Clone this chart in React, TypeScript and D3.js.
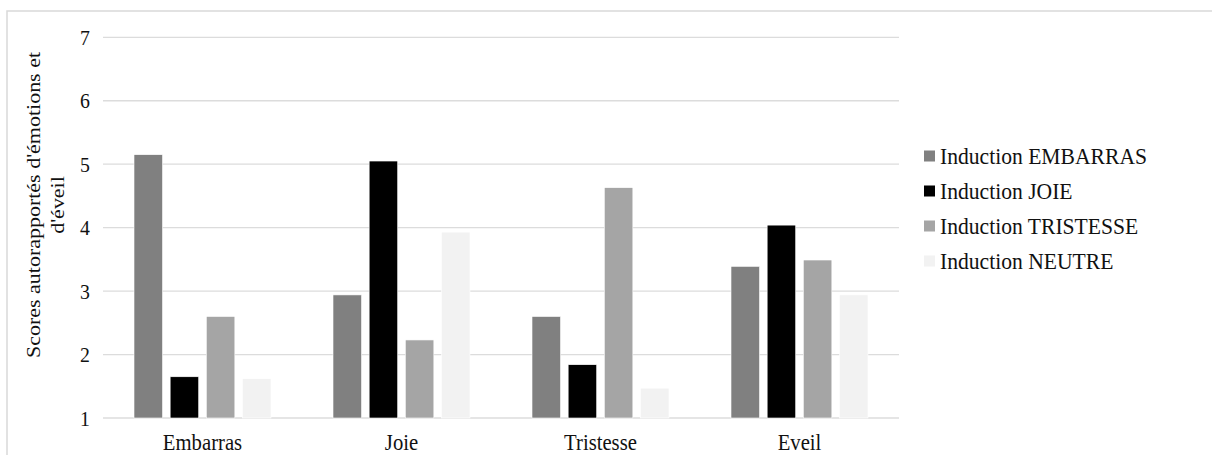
import React from "react";
import * as d3 from "d3";

const categories = ["Embarras", "Joie", "Tristesse", "Eveil"];
const seriesNames = [
  "Induction EMBARRAS",
  "Induction JOIE",
  "Induction TRISTESSE",
  "Induction NEUTRE",
];
const seriesColors = ["#808080", "#000000", "#a5a5a5", "#f2f2f2"];
const inductionEmbarras = [5.15, 2.94, 2.6, 3.39];
const inductionJoie = [1.65, 5.05, 1.84, 4.04];
const inductionTristesse = [2.6, 2.23, 4.63, 3.49];
const inductionNeutre = [1.62, 3.93, 1.47, 2.94];
const seriesValues = [inductionEmbarras, inductionJoie, inductionTristesse, inductionNeutre];
const yTicks = [1, 2, 3, 4, 5, 6, 7];
const yTitleLines = ["Scores autorapportés d'émotions et", "d'éveil"];

const W = 1212;
const H = 455;
const plot = { left: 103, right: 899, top: 37.3, bottom: 418 };
const FONT = "Liberation Serif";
const TEXT = "#111111";

function SText(props: {
  x: number;
  y: number;
  size: number;
  sx: number;
  anchor?: string;
  dy?: string;
  children: React.ReactNode;
}) {
  return (
    <text
      transform={`translate(${props.x},${props.y}) scale(${props.sx},1)`}
      dy={props.dy}
      textAnchor={props.anchor || "start"}
      fontSize={props.size}
      fill={TEXT}
      style={{ fontFamily: FONT }}
    >
      {props.children}
    </text>
  );
}

export default function App() {
  const x0 = d3.scaleBand<string>().domain(categories).range([plot.left, plot.right]).padding(0);
  const bw = x0.bandwidth();
  const x1 = d3
    .scaleBand<string>()
    .domain(seriesNames)
    .range([31, bw - 31])
    .paddingInner(0.21);
  const y = d3.scaleLinear().domain([1, 7]).range([plot.bottom, plot.top]);

  return (
    <svg
      width={W}
      height={H}
      style={{ position: "absolute", left: 0, top: 0, background: "#fff", fontFamily: FONT }}
    >
      <rect x={0} y={0} width={W} height={H} fill="#fff" />
      {/* outer chart border */}
      <rect x={7} y={11} width={W + 20} height={H + 20} fill="none" stroke="#d9d9d9" strokeWidth={1.5} />
      {/* gridlines */}
      {yTicks.map((t) => (
        <line
          key={"g" + t}
          x1={plot.left}
          x2={plot.right}
          y1={y(t)}
          y2={y(t)}
          stroke="#dcdcdc"
          strokeWidth={1.3}
        />
      ))}
      {/* y tick labels */}
      {yTicks.map((t) => (
        <SText key={"t" + t} x={90} y={y(t)} dy="0.35em" anchor="end" size={22} sx={0.9}>
          {t}
        </SText>
      ))}
      {/* bars */}
      {categories.map((c, ci) => (
        <g key={c} transform={`translate(${x0(c)},0)`}>
          {seriesNames.map((s, si) => {
            const v = seriesValues[si][ci];
            return (
              <rect
                key={s}
                x={x1(s)}
                y={y(v)}
                width={x1.bandwidth()}
                height={y(1) - y(v)}
                fill={seriesColors[si]}
                stroke="#ffffff"
                strokeWidth={0.6}
              />
            );
          })}
        </g>
      ))}
      {/* x labels */}
      {categories.map((c) => (
        <SText key={"x" + c} x={(x0(c) as number) + bw / 2} y={449.5} anchor="middle" size={23} sx={0.9}>
          {c}
        </SText>
      ))}
      {/* y title */}
      <text
        transform={`translate(0,205) rotate(-90) scale(1,0.9)`}
        textAnchor="middle"
        fontSize={22}
        fill={TEXT}
        style={{ fontFamily: FONT }}
      >
        {yTitleLines.map((l, i) => (
          <tspan key={i} x={0} y={44 + i * 27.5}>
            {l}
          </tspan>
        ))}
      </text>
      {/* legend */}
      {seriesNames.map((s, i) => {
        const cy = 156 + i * 35;
        return (
          <g key={"l" + s}>
            <rect x={924} y={cy - 5.5} width={11} height={11} fill={seriesColors[i]} />
            <SText x={940} y={cy} dy="0.35em" size={24} sx={0.9}>
              {s}
            </SText>
          </g>
        );
      })}
    </svg>
  );
}
